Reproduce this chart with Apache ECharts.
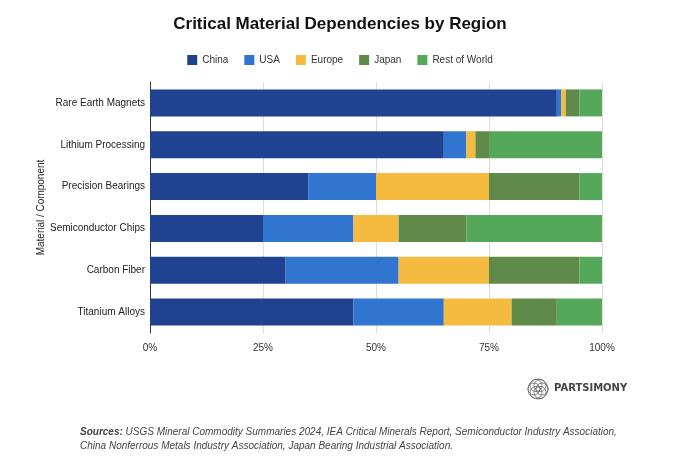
<!DOCTYPE html>
<html>
<head>
<meta charset="utf-8">
<script src="https://cdn.jsdelivr.net/npm/echarts@6/dist/echarts.min.js"></script>
<style>
body { margin: 0; background: #fff; }
#chart { width: 680px; height: 473px; }
</style>
</head>
<body>
<div id="chart"></div>
<script>
let categories = ['Rare Earth Magnets', 'Lithium Processing', 'Precision Bearings', 'Semiconductor Chips', 'Carbon Fiber', 'Titanium Alloys'];
let regions = ['China', 'USA', 'Europe', 'Japan', 'Rest of World'];
let colors = ['#1f4391', '#3075d0', '#f4bb40', '#5f8a4a', '#55a85a'];
let china = [90, 65, 35, 25, 30, 45];
let usa = [1, 5, 15, 20, 25, 20];
let europe = [1, 2, 25, 10, 20, 15];
let japan = [3, 3, 20, 15, 20, 10];
let rest = [5, 25, 5, 30, 5, 10];
let values = [china, usa, europe, japan, rest];

let chart = echarts.init(document.getElementById('chart'));

// logo rings
let logo = [];
for (let i = 0; i < 6; i++) {
	let a = i * Math.PI / 3;
	logo.push({
		type: 'circle',
		shape: { cx: 538 + Math.cos(a) * 4, cy: 389 + Math.sin(a) * 4, r: 6 },
		style: { fill: 'none', stroke: '#666', lineWidth: 0.8 }
	});
}
logo.push({ type: 'circle', shape: { cx: 538, cy: 389, r: 10 }, style: { fill: 'none', stroke: '#666', lineWidth: 0.8 } });

let option = {
	title: {
		text: 'Critical Material Dependencies by Region',
		left: 'center',
		top: 11,
		textStyle: { fontFamily: 'Liberation Sans', fontSize: 17, fontWeight: 'bold', color: '#111' }
	},
	legend: {
		top: 50,
		left: 'center',
		itemWidth: 10,
		itemHeight: 10,
		itemGap: 16,
		icon: 'rect',
		textStyle: { fontFamily: 'Liberation Sans', fontSize: 10, color: '#333' },
		data: regions
	},
	grid: { left: 150, right: 78, top: 82, bottom: 140 },
	xAxis: {
		type: 'value',
		min: 0,
		max: 100,
		interval: 25,
		axisLabel: { formatter: '{value}%', fontFamily: 'Liberation Sans', fontSize: 10, color: '#333', margin: 10 },
		splitLine: { lineStyle: { color: '#ddd' } }
	},
	yAxis: {
		type: 'category',
		data: categories,
		inverse: true,
		name: 'Material / Component',
		nameLocation: 'middle',
		nameGap: 104,
		nameMoveOverlap: false,
		nameTextStyle: { fontFamily: 'Liberation Sans', fontSize: 10, color: '#222' },
		axisTick: { show: false },
		axisLine: { lineStyle: { color: '#333' } },
		axisLabel: { fontFamily: 'Liberation Sans', fontSize: 10, color: '#222', margin: 5 }
	},
	series: regions.map(function (r, i) {
		return {
			name: r,
			type: 'bar',
			stack: 'total',
			barWidth: 27,
			itemStyle: { color: colors[i] },
			data: values[i]
		};
	}),
	graphic: logo.concat([
		{
			type: 'text', left: 554, top: 383,
			style: { text: 'PARTSIMONY', fontFamily: 'DejaVu Sans', fontSize: 10, fill: '#444', fontWeight: 'bold' }
		},
		{
			type: 'text', left: 80, top: 425,
			style: {
				text: '{b|Sources:} USGS Mineral Commodity Summaries 2024, IEA Critical Minerals Report, Semiconductor Industry Association,\nChina Nonferrous Metals Industry Association, Japan Bearing Industrial Association.',
				fontFamily: 'Liberation Sans', fontSize: 10, fontStyle: 'italic', fill: '#444', lineHeight: 14,
				rich: { b: { fontWeight: 'bold', fontStyle: 'italic', fontFamily: 'Liberation Sans', fontSize: 10, fill: '#444' } }
			}
		}
	])
};
chart.setOption(option);
</script>
</body>
</html>
